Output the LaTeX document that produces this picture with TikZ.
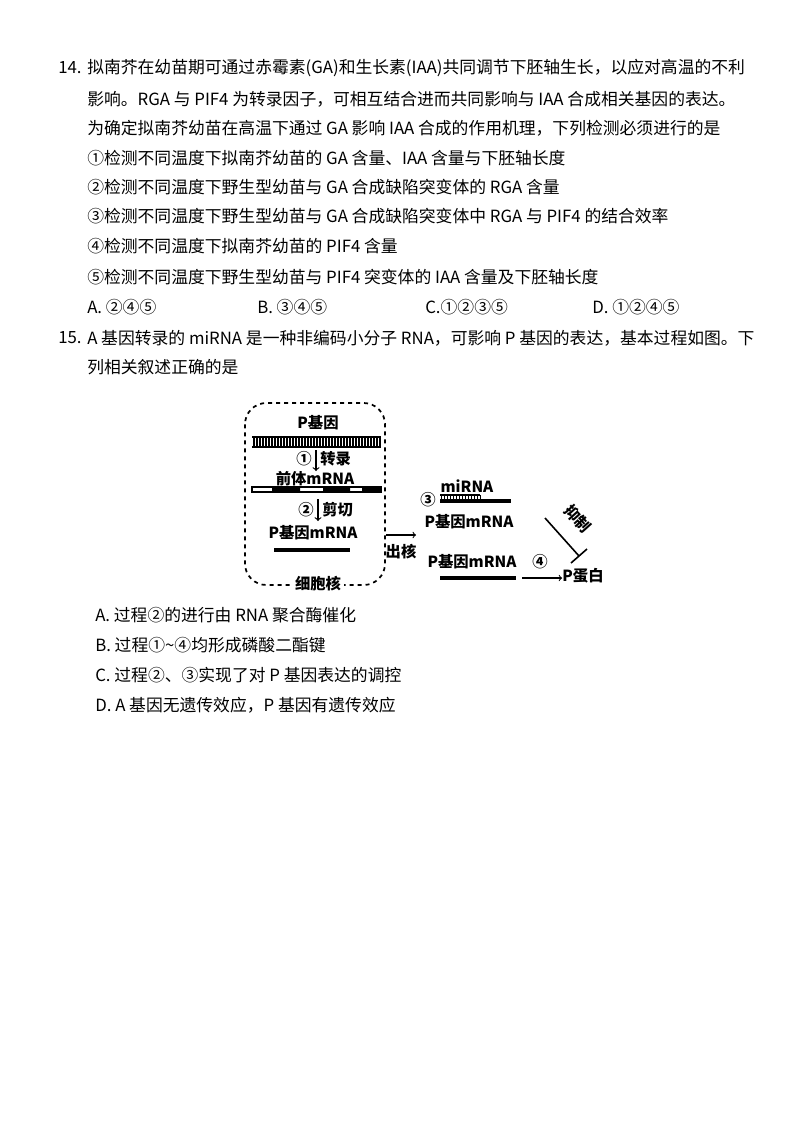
\documentclass[tikz,border=0pt]{standalone}
\usepackage{fontspec}
\usetikzlibrary{calc}
\setmainfont{Noto Sans CJK SC}
\begin{document}
\begin{tikzpicture}[x=0.75pt,y=-0.75pt,
  tx/.style={anchor=west,inner sep=0pt,font=\fontsize{12.6pt}{14pt}\selectfont},
  dg/.style={inner sep=0pt,font=\fontsize{11.5pt}{13pt}\selectfont\bfseries},
  bar/.style={line width=2.6pt}]
\useasboundingbox[fill=white] (0,0) rectangle (800,1132);
\node[tx] (q14) at (58,68) {14.};
\node[tx] (l1) at (87,68) {拟南芥在幼苗期可通过赤霉素(GA)和生长素(IAA)共同调节下胚轴生长，以应对高温的不利};
\node[tx] (l2) at (87,99) {影响。RGA 与 PIF4 为转录因子，可相互结合进而共同影响与 IAA 合成相关基因的表达。};
\node[tx] (l3) at (87,128) {为确定拟南芥幼苗在高温下通过 GA 影响 IAA 合成的作用机理，下列检测必须进行的是};
\node[tx] (s1) at (87,158) {①检测不同温度下拟南芥幼苗的 GA 含量、IAA 含量与下胚轴长度};
\node[tx] (s2) at (87,187) {②检测不同温度下野生型幼苗与 GA 合成缺陷突变体的 RGA 含量};
\node[tx] (s3) at (87,216) {③检测不同温度下野生型幼苗与 GA 合成缺陷突变体中 RGA 与 PIF4 的结合效率};
\node[tx] (s4) at (87,246) {④检测不同温度下拟南芥幼苗的 PIF4 含量};
\node[tx] (s5) at (87,277) {⑤检测不同温度下野生型幼苗与 PIF4 突变体的 IAA 含量及下胚轴长度};
\node[tx] (oa) at (87,307) {A.\ ②④⑤};
\node[tx] (ob) at (257,307) {B.\ ③④⑤};
\node[tx] (oc) at (425,307) {C.①②③⑤};
\node[tx] (od) at (592,307) {D.\ ①②④⑤};
\node[tx] (q15) at (58,338) {15.};
\node[tx] (m1) at (87,338) {A 基因转录的 miRNA 是一种非编码小分子 RNA，可影响 P 基因的表达，基本过程如图。下};
\node[tx] (m2) at (87,367) {列相关叙述正确的是};
\node[tx] (aa) at (95,615) {A.\ 过程②的进行由 RNA 聚合酶催化};
\node[tx] (ab) at (95,645) {B.\ 过程①\textasciitilde④均形成磷酸二酯键};
\node[tx] (ac) at (95,675) {C.\ 过程②、③实现了对 P 基因表达的调控};
\node[tx] (ad) at (95,705) {D.\ A 基因无遗传效应，P 基因有遗传效应};
% diagram
\draw[dashed,line width=1.3pt,rounded corners=16pt] (245,403) rectangle (385,585);
\node[dg,fill=white,inner sep=2pt] (nuc) at (318,584) {细胞核};
\node[dg] (pg) at (318,423) {P基因};
\draw[line width=0.9pt] (252,437) -- (381,437) (252,447) -- (381,447);
\foreach \i in {0,...,42} \draw[line width=0.8pt] (254+\i*3,437) -- (254+\i*3,447);
\coordinate (a1s) at (316,450); \coordinate (a1e) at (316,471);
\draw[->,line width=0.9pt] (a1s) -- (a1e);
\node[dg,anchor=east] (c1) at (312,459) {①};
\node[dg,anchor=west] (t1) at (320,459) {转录};
\node[dg] (pre) at (315,479) {前体mRNA};
\draw[line width=0.8pt] (252,487) rectangle (381,492);
\fill (272,487) rectangle (300,492) (323,487) rectangle (350,492) (362,487) rectangle (381,492);
\coordinate (a2s) at (318,499); \coordinate (a2e) at (318,521);
\draw[->,line width=0.9pt] (a2s) -- (a2e);
\node[dg,anchor=east] (c2) at (314,510) {②};
\node[dg,anchor=west] (t2) at (322,510) {剪切};
\node[dg] (pm1) at (313,533) {P基因mRNA};
\draw[bar] (274,550) -- (350,550);
\coordinate (ex1) at (386,535); \coordinate (ex2) at (416,535);
\draw[->,line width=0.8pt] (ex1) -- (ex2);
\node[dg] (exl) at (401,552) {出核};
\node[dg] (mi) at (467,486) {miRNA};
\node[dg] (c3) at (428,500) {③};
\draw[line width=0.8pt] (440,495) -- (480,495);
\foreach \i in {0,...,13} \draw[line width=0.7pt] (441+\i*3,495) -- (441+\i*3,501);
\draw[bar] (440,501) -- (511,501);
\node[dg] (pm2) at (469,522) {P基因mRNA};
\node[dg] (pm3) at (472,562) {P基因mRNA};
\node[dg] (c4) at (540,562) {④};
\draw[bar] (440,578) -- (516,578);
\node[dg] (pp) at (583,576) {P蛋白};
\coordinate (tr) at (522,578);
\draw[->,line width=0.8pt] (tr) -- (pp.west|-tr);
\coordinate (ih1) at (545,518); \coordinate (ih2) at (579,556);
\draw[line width=1.2pt] (ih1) -- (ih2);
\draw[line width=1.2pt] ($(ih2)+(-8,7)$) -- ($(ih2)+(8,-7)$);
\node[dg,rotate=-48] (ihl) at (578,519) {抑制};
\end{tikzpicture}
\end{document}
